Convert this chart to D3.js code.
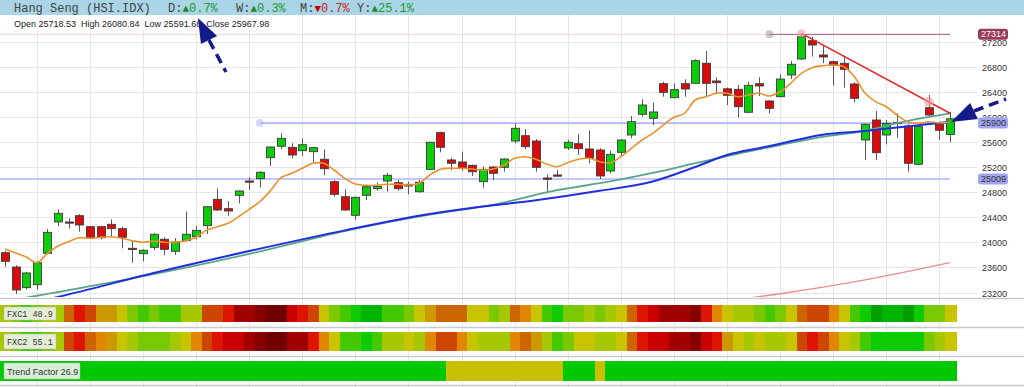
<!DOCTYPE html>
<html>
<head>
<meta charset="utf-8">
<script src="https://cdn.jsdelivr.net/npm/d3@7"></script>
<style>
  body { margin: 0; background: #fff; }
  svg { display: block; }
</style>
</head>
<body>
<svg id="chart" width="1024" height="387"></svg>
<script>
// daily candles, oldest first
const opens = [23834,23606,23277,23324,23825,24324,24324,24424,24249,24249,
  24287,24217,23904,23818,23920,24048,23857,24026,24089,24265,
  24685,24536,24749,24977,25014,25348,25530,25514,25460,25444,
  25323,24966,24727,24430,24749,24854,24977,24950,24924,24806,
  25163,25747,25312,25280,25227,24966,25200,25195,25614,25699,
  25614,25025,25073,25503,25571,25487,25471,25136,25434,25710,
  26040,25976,26528,26304,26528,26534,26853,26571,26446,26438,
  26072,26528,26252,26320,26666,26921,27213,26985,26878,26853,
  26523,25630,25949,25710,25910,25853,25243,26145,25880,25718.53];
const highs = [23861,23633,23531,23697,24212,24526,24383,24451,24260,24260,
  24367,24249,24037,23888,24143,24080,24069,24488,24260,24579,
  24861,24658,24825,25036,25132,25525,25737,25578,25657,25515,
  25482,24993,24845,24727,24913,24956,25104,24993,24966,24993,
  25600,25763,25348,25444,25237,25205,25216,25339,25896,25806,
  25646,25077,25152,25630,25721,25779,25498,25460,25641,26013,
  26279,26225,26559,26534,26598,26916,27049,26630,26467,26507,
  26559,26630,26268,26677,26889,27314,27276,27133,26894,26969,
  26550,25896,26092,25949,26056,25880,25869,26347,25922,26080.84];
const lows = [23611,23176,23251,23251,23809,24260,24223,24169,24057,24048,
  24089,23904,23675,23697,23877,23798,23798,24013,24048,24132,
  24504,24424,24622,24834,24877,25216,25482,25339,25375,25269,
  25068,24727,24499,24355,24674,24822,24806,24822,24765,24790,
  25152,25434,25152,25141,25057,24870,24993,25125,25578,25482,
  25125,24781,25045,25471,25391,25259,25004,25100,25364,25657,
  26002,25869,26320,26295,26320,26523,26320,26375,26188,25992,
  26056,26331,26056,26310,26602,26905,26958,26853,26496,26464,
  26231,25312,25312,25562,25667,25125,25232,26002,25630,25591.66];
const closes = [23697,23240,23511,23675,24159,24462,24308,24276,24073,24073,
  24217,24080,23893,23873,24128,23888,24005,24128,24191,24567,
  24515,24499,24818,24970,25116,25519,25657,25391,25555,25508,
  25173,24765,24515,24717,24886,24892,25068,24854,24897,24956,
  25594,25514,25259,25179,25125,25163,25100,25327,25817,25524,
  25195,25004,25066,25594,25492,25339,25057,25402,25630,25922,
  26188,26077,26390,26432,26443,26894,26534,26543,26343,26161,
  26502,26491,26135,26602,26837,27276,27144,26953,26826,26757,
  26295,25880,25428,25896,25900,25259,25842,26029,25785,25967.98];

// short moving average (orange), one value per candle
const maShort = [23893,23830,23766,23675,23825,23941,24010,24073,24064,24080,
  24089,24064,24026,24000,24021,24000,24000,24026,24080,24196,
  24249,24303,24408,24526,24647,24822,25029,25100,25179,25259,
  25259,25152,25020,24929,24908,24908,24924,24924,24913,24940,
  25073,25163,25179,25179,25168,25152,25168,25232,25339,25364,
  25323,25248,25205,25269,25323,25339,25285,25269,25364,25498,
  25630,25737,25869,25992,26056,26268,26320,26375,26375,26320,
  26347,26375,26331,26400,26534,26693,26782,26814,26826,26798,
  26639,26375,26241,26161,26029,25922,25896,25922,25906,25922];

// longer averages read at a few candles
const maMidIdx = [0, 10, 23, 32, 40, 46, 52, 57, 61, 65, 68, 73, 77, 81, 84, 89];
const maMidVal = [23060, 23360, 23815, 24180, 24440, 24600, 24830, 24970, 25105, 25260, 25375, 25550, 25680, 25775, 25900, 26056];
const maLongIdx = [3, 6, 14, 23, 32, 40, 45, 50, 56, 61, 65, 68, 71, 73, 77, 81, 84, 89];
const maLongVal = [23050, 23170, 23510, 23860, 24190, 24450, 24570, 24670, 24820, 24970, 25200, 25390, 25500, 25570, 25715, 25775, 25830, 25922];
const maSlowIdx = [70, 73, 81, 89];
const maSlowVal = [23110, 23180, 23400, 23675];

const priceTicks = [23200, 23600, 24000, 24400, 24800, 25200, 25600, 26000, 26400, 26800, 27200];
const gridIdx = [3, 8, 13, 18, 23, 28, 33, 38, 43, 48, 53, 58, 63, 68, 73, 78, 83, 88];

const levelPrices = [27314, 25900, 25009];
const trendFrom = [75, 27330];
const trendTo = [89, 26056];

const title = 'Hang Seng (HSI.IDX)';
const changeNames = ['D:', 'W:', 'M:', 'Y:'];
const changeVals = [0.7, 0.3, -0.7, 25.1];
const ohlcText = 'Open 25718.53  High 26080.84  Low 25591.66  Close 25967.98';

// indicator strips: level 0 = strongest green ... 15 = darkest red
const fxc1 = [5,4,3,4,5,5,9,11,10,7,7,6,4,3,4,3,3,5,5,10,
  10,11,13,13,14,15,15,12,11,10,6,4,3,2,1,1,3,3,4,6,
  7,9,9,9,6,6,4,5,9,8,6,3,2,4,4,5,4,5,6,9,
  11,12,13,13,13,14,11,8,6,5,5,4,3,4,6,9,10,10,8,6,
  3,2,0,1,1,0,2,4,4,6];
const fxc2 = [5,4,3,3,4,5,10,11,9,8,7,6,5,4,4,4,5,6,8,10,
  11,12,12,13,14,15,15,13,13,11,8,6,3,3,2,3,5,5,6,5,
  8,10,10,8,6,5,5,5,8,9,7,5,3,4,6,6,5,5,6,9,
  11,12,12,13,13,14,12,11,7,6,5,6,5,5,6,10,11,10,8,6,
  5,3,2,2,2,2,2,4,5,6];
const trendUp = [1,1,1,1,1,1,1,1,1,1,1,1,1,1,1,1,1,1,1,1,
  1,1,1,1,1,1,1,1,1,1,1,1,1,1,1,1,1,1,1,1,
  1,1,0,0,0,0,0,0,0,0,0,0,0,1,1,1,0,1,1,1,
  1,1,1,1,1,1,1,1,1,1,1,1,1,1,1,1,1,1,1,1,
  1,1,1,1,1,1,1,1,1,1];
const stripLabels = ['FXC1 48.9', 'FXC2 55.1', 'Trend Factor 26.9'];

const heatPalette = ['#009e00','#00b400','#0ccc00','#44c800','#7ac800','#a6c800','#c8c400','#cc9a00',
  '#e08600','#cc6400','#cc4600','#dc1400','#c80000','#a00000','#860000','#700000'];

const svg = d3.select('#chart');
const W = 1024;

const x = d3.scaleLinear().domain([0, 89]).range([5, 950]);
const y = d3.scaleLinear().domain([23200, 27200]).range([292.5, 41.5]);
const band = d3.scaleBand().domain(d3.range(fxc1.length)).range([0, 956]);

// grid
const grid = svg.append('g').attr('stroke', '#e6e6e6').attr('stroke-width', 1).attr('shape-rendering', 'crispEdges');
gridIdx.forEach(i => {
  grid.append('line').attr('x1', Math.round(x(i)) + 0.5).attr('x2', Math.round(x(i)) + 0.5)
    .attr('y1', 15).attr('y2', 387);
});
priceTicks.forEach(p => {
  grid.append('line').attr('x1', 0).attr('x2', 977)
    .attr('y1', Math.round(y(p)) + 0.5).attr('y2', Math.round(y(p)) + 0.5);
});

// separators
const seps = [298, 327, 356, 385];
svg.append('g').selectAll('line').data(seps).join('line')
  .attr('x1', 0).attr('x2', W).attr('y1', d => d + 0.5).attr('y2', d => d + 0.5)
  .attr('stroke', '#c9c9c9').attr('stroke-width', 1.5);

svg.append('clipPath').attr('id', 'plotclip').append('rect')
  .attr('x', 0).attr('y', 29).attr('width', 977).attr('height', 268);
const plot = svg.append('g').attr('clip-path', 'url(#plotclip)');

// horizontal levels
plot.append('line').attr('x1', 0).attr('x2', x(72)).attr('y1', y(levelPrices[0])).attr('y2', y(levelPrices[0]))
  .attr('stroke', '#efd3da').attr('stroke-width', 1);
plot.append('line').attr('x1', x(72)).attr('x2', 950).attr('y1', y(levelPrices[0])).attr('y2', y(levelPrices[0]))
  .attr('stroke', '#a35a72').attr('stroke-width', 1);
plot.append('line').attr('x1', x(24)).attr('x2', 950).attr('y1', y(levelPrices[1])).attr('y2', y(levelPrices[1]))
  .attr('stroke', '#b0b4ff').attr('stroke-width', 1.6);
plot.append('line').attr('x1', 0).attr('x2', 950).attr('y1', y(levelPrices[2])).attr('y2', y(levelPrices[2]))
  .attr('stroke', '#b0b4ff').attr('stroke-width', 1.6);
plot.append('circle').attr('cx', x(72)).attr('cy', y(levelPrices[0])).attr('r', 4)
  .attr('fill', '#999').attr('opacity', 0.55);
plot.append('circle').attr('cx', x(24)).attr('cy', y(levelPrices[1])).attr('r', 4)
  .attr('fill', '#b8bcff').attr('opacity', 0.6);

// candles
const candles = opens.map((o, i) => ({ i, o, h: highs[i], l: lows[i], c: closes[i] }));
const cg = plot.append('g');
cg.selectAll('line').data(candles).join('line')
  .attr('x1', d => Math.round(x(d.i)) + 0.5).attr('x2', d => Math.round(x(d.i)) + 0.5)
  .attr('y1', d => y(d.h)).attr('y2', d => y(d.l))
  .attr('stroke', '#595959').attr('stroke-width', 1);
cg.selectAll('rect').data(candles).join('rect')
  .attr('x', d => Math.round(x(d.i)) - 3.5).attr('width', 8)
  .attr('y', d => y(Math.max(d.o, d.c)))
  .attr('height', d => Math.max(1.2, Math.abs(y(d.o) - y(d.c))))
  .attr('fill', d => d.c >= d.o ? '#0ccc0c' : '#d80c0c')
  .attr('stroke', '#3c3c3c').attr('stroke-width', 0.9);

// moving averages
const lineIdx = d3.line().x(d => x(d[0])).y(d => y(d[1])).curve(d3.curveMonotoneX);
plot.append('path').datum(maSlowIdx.map((d, k) => [d, maSlowVal[k]]))
  .attr('d', lineIdx).attr('fill', 'none').attr('stroke', '#f08a8a').attr('stroke-width', 1.3);
plot.append('path').datum(maMidIdx.map((d, k) => [d, maMidVal[k]]))
  .attr('d', lineIdx).attr('fill', 'none').attr('stroke', '#5aa58a').attr('stroke-width', 1.8);
plot.append('path').datum(maLongIdx.map((d, k) => [d, maLongVal[k]]))
  .attr('d', lineIdx).attr('fill', 'none').attr('stroke', '#1f2fe0').attr('stroke-width', 2);
plot.append('path').datum(maShort.map((v, i) => [i, v]))
  .attr('d', d3.line().x(d => x(d[0])).y(d => y(d[1])).curve(d3.curveCatmullRom))
  .attr('fill', 'none').attr('stroke', '#e8922e').attr('stroke-width', 1.6);

// trend line
plot.append('line')
  .attr('x1', x(trendFrom[0])).attr('y1', y(trendFrom[1]))
  .attr('x2', x(trendTo[0])).attr('y2', y(trendTo[1]))
  .attr('stroke', '#e42a2a').attr('stroke-width', 1.6);
plot.append('circle').attr('cx', x(trendFrom[0])).attr('cy', y(trendFrom[1])).attr('r', 4)
  .attr('fill', '#f4a0a0').attr('opacity', 0.6);
plot.append('circle').attr('cx', x(87)).attr('cy', y(26241)).attr('r', 5)
  .attr('fill', '#f4a0a0').attr('opacity', 0.6);

// right axis
const axis = svg.append('g').attr('font-family', 'Liberation Sans, Arial, sans-serif').attr('font-size', 9).attr('fill', '#333');
axis.selectAll('text').data(priceTicks).join('text')
  .attr('x', 982).attr('y', d => y(d) + 4).text(d => d);
const boxFill = ['#9a3b5c', '#a0a2f4', '#a0a2f4'];
const boxText = ['#fff', '#333', '#333'];
levelPrices.forEach((p, k) => {
  axis.append('rect').attr('x', 978).attr('y', y(p) - 5.5).attr('width', 30).attr('height', 11)
    .attr('rx', 3).attr('fill', boxFill[k]);
  axis.append('text').attr('x', 981).attr('y', y(p) + 3).attr('fill', boxText[k]).text(p);
});

// strips
const stripY = [305, 332, 361];
const stripH = [17, 19, 20];
[fxc1, fxc2].forEach((vals, s) => {
  svg.append('g').attr('shape-rendering', 'crispEdges')
    .selectAll('rect').data(vals).join('rect')
    .attr('x', (d, i) => band(i)).attr('width', band.bandwidth() + 0.5)
    .attr('y', stripY[s]).attr('height', stripH[s])
    .attr('fill', d => heatPalette[d]);
});
svg.append('g').attr('shape-rendering', 'crispEdges')
  .selectAll('rect').data(trendUp).join('rect')
  .attr('x', (d, i) => band(i)).attr('width', band.bandwidth() + 0.5)
  .attr('y', stripY[2]).attr('height', stripH[2])
  .attr('fill', d => d ? '#00c800' : '#c8c000');

const labW = [52, 52, 76];
stripLabels.forEach((t, s) => {
  const g = svg.append('g');
  g.append('rect').attr('x', 4).attr('y', stripY[s] + 2).attr('width', labW[s]).attr('height', stripH[s] - 4)
    .attr('fill', '#f2f2ee').attr('opacity', 0.9).attr('stroke', '#bbb').attr('stroke-width', 0.5);
  g.append('text').attr('x', 7).attr('y', stripY[s] + stripH[s] / 2 + 3.5)
    .attr('font-family', s < 2 ? 'Liberation Mono, monospace' : 'Liberation Sans, Arial, sans-serif')
    .attr('font-size', s < 2 ? 8.5 : 9).attr('fill', '#333').text(t);
});

// header
svg.append('rect').attr('x', 0).attr('y', 0).attr('width', W).attr('height', 15).attr('fill', '#a9d5e6');
svg.append('rect').attr('x', 0).attr('y', 15).attr('width', 275).attr('height', 15).attr('fill', '#fff');
const head = svg.append('text').attr('y', 12)
  .attr('font-family', 'Liberation Mono, monospace').attr('font-size', 12).attr('fill', '#444');
head.append('tspan').attr('x', 14).text(title);
const changeX = [168, 236, 300, 357];
changeNames.forEach((n, k) => {
  const up = changeVals[k] >= 0;
  const col = up ? '#1e9a2a' : '#d02020';
  head.append('tspan').attr('x', changeX[k]).text(n);
  head.append('tspan').attr('fill', up ? '#1e8a2a' : '#c00000').attr('font-size', 11).text(up ? '\u25B2' : '\u25BC');
  head.append('tspan').attr('fill', col).text(Math.abs(changeVals[k]).toFixed(1) + '%');
});
svg.append('text').attr('x', 14).attr('y', 27)
  .attr('font-family', 'Liberation Sans, Arial, sans-serif').attr('font-size', 9).attr('fill', '#222')
  .attr('xml:space', 'preserve').text(ohlcText);

// annotation arrows
function arrow(tip, base, tail) {
  const dx = tip[0] - base[0], dy = tip[1] - base[1];
  const len = Math.hypot(dx, dy), px = -dy / len * 9, py = dx / len * 9;
  svg.append('line').attr('x1', base[0]).attr('y1', base[1]).attr('x2', tail[0]).attr('y2', tail[1])
    .attr('stroke', '#141a8a').attr('stroke-width', 3.5).attr('stroke-dasharray', '10,6');
  svg.append('path')
    .attr('d', `M${tip[0]},${tip[1]}L${base[0] + px},${base[1] + py}L${base[0] - px},${base[1] - py}Z`)
    .attr('fill', '#141a8a');
}
arrow([198, 18], [209, 40], [226, 72]);
arrow([951, 122], [974, 111], [1006, 99]);
</script>
</body>
</html>
